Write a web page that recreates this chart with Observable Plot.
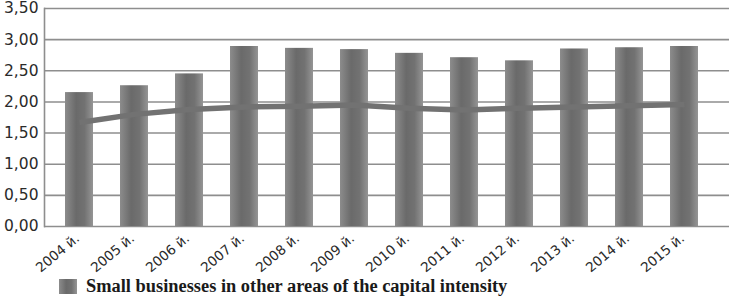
<!DOCTYPE html>
<html>
<head>
<meta charset="utf-8">
<script src="https://cdn.jsdelivr.net/npm/d3@7"></script>
<script src="https://cdn.jsdelivr.net/npm/@observablehq/plot@0.6"></script>
<style>
  html, body { margin: 0; padding: 0; background: #ffffff; }
  #chart { width: 730px; height: 300px; position: relative; overflow: hidden; }
  .legend { display: flex; align-items: center; height: 30px; padding-left: 59px; padding-top: 2px; box-sizing: border-box; }
  .legend .sw { width: 18px; height: 15px; background: linear-gradient(to right, #8c8c8c, #6a6a6a 40%, #727272 70%, #959595); margin-right: 9px; }
  .legend .lbl { font-family: "Liberation Serif", "Times New Roman", serif; font-weight: bold; font-size: 18.4px; color: #1a1a1a; }
</style>
</head>
<body>
<div id="chart"></div>
<script>
const years = ["2004 й.", "2005 й.", "2006 й.", "2007 й.", "2008 й.", "2009 й.", "2010 й.", "2011 й.", "2012 й.", "2013 й.", "2014 й.", "2015 й."];
const barValues = [2.15, 2.26, 2.45, 2.89, 2.86, 2.84, 2.78, 2.71, 2.66, 2.85, 2.87, 2.89];
const lineValues = [1.67, 1.80, 1.88, 1.92, 1.93, 1.95, 1.90, 1.87, 1.90, 1.92, 1.94, 1.96];
const yTicks = [0, 0.5, 1, 1.5, 2, 2.5, 3, 3.5];
const legendLabel = "Small businesses in other areas of the capital intensity";

const rows = years.map((y, i) => ({year: y, bar: barValues[i], line: lineValues[i]}));
const fmt = v => d3.format(".2f")(v).replace(".", ",");

const plot = Plot.plot({
  width: 730,
  height: 270,
  marginTop: 8,
  marginBottom: 44,
  marginLeft: 44,
  marginRight: 1,
  style: {fontFamily: "'DejaVu Sans', sans-serif", background: "transparent", overflow: "visible"},
  x: {domain: years, range: [46, 716], paddingInner: 0.5, paddingOuter: 0.25, axis: null},
  y: {domain: [0, 3.5], axis: null},
  marks: [
    Plot.ruleY(yTicks, {stroke: "#8e8e8e", strokeWidth: 1.6}),
    Plot.frame({anchor: "left", stroke: "#8e8e8e", strokeWidth: 1.6}),
    Plot.barY(rows, {x: "year", y: "bar", fill: "url(#barGrad)"}),
    Plot.line(rows, {x: "year", y: "line", stroke: "#727272", strokeWidth: 5.5, strokeLinejoin: "round", strokeLinecap: "butt"}),
    Plot.axisY({ticks: yTicks, tickFormat: fmt, tickSize: 0, tickPadding: 6, fontSize: 15.5, fill: "#2a2a2a"}),
    Plot.text(years, {x: d => d, frameAnchor: "bottom", text: d => d, rotate: -40, textAnchor: "end", lineAnchor: "middle", dx: -2, dy: 10, fontSize: 13.5, fill: "#2a2a2a"})
  ]
});

const svg = d3.select(plot);
const defs = svg.insert("defs", ":first-child");
const g = defs.append("linearGradient").attr("id", "barGrad").attr("x1", "0").attr("x2", "1").attr("y1", "0").attr("y2", "0");
[[0, "#8c8c8c"], [0.4, "#6a6a6a"], [0.7, "#727272"], [1, "#959595"]].forEach(([o, c]) => g.append("stop").attr("offset", o).attr("stop-color", c));

const chart = document.getElementById("chart");
chart.appendChild(plot);
const legend = document.createElement("div");
legend.className = "legend";
legend.innerHTML = `<span class="sw"></span><span class="lbl"></span>`;
legend.querySelector(".lbl").textContent = legendLabel;
chart.appendChild(legend);
</script>
</body>
</html>
